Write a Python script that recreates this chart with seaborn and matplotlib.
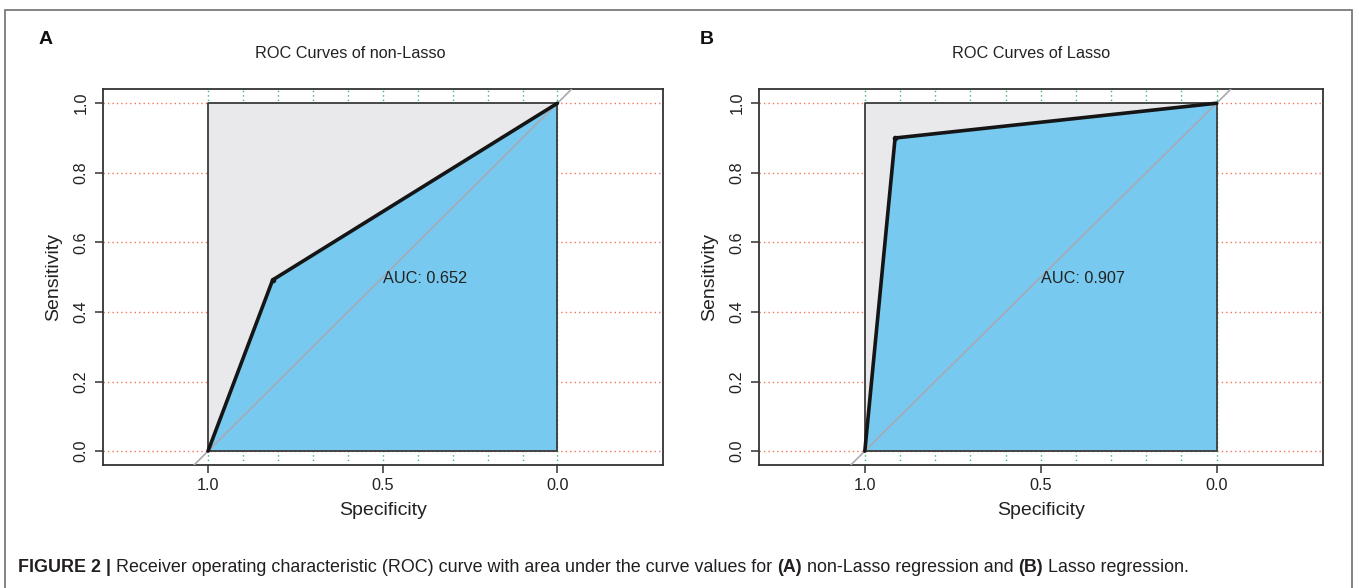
import numpy as np
import pandas as pd
import matplotlib
matplotlib.use("Agg")
import matplotlib.pyplot as plt
from matplotlib.patches import Rectangle
import seaborn as sns

# ---------------- data ----------------
panel_letters = ["A", "B"]
panel_titles = ["ROC Curves of non-Lasso", "ROC Curves of Lasso"]
spec_nonlasso = [1.0, 0.815, 0.0]
sens_nonlasso = [0.0, 0.492, 1.0]
spec_lasso = [1.0, 0.914, 0.0]
sens_lasso = [0.0, 0.900, 1.0]
auc_labels = ["AUC: 0.652", "AUC: 0.907"]
x_ticks = [1.0, 0.5, 0.0]
x_ticklabels = ["1.0", "0.5", "0.0"]
y_ticks = [0.0, 0.2, 0.4, 0.6, 0.8, 1.0]
y_ticklabels = ["0.0", "0.2", "0.4", "0.6", "0.8", "1.0"]
x_grid = [0.0, 0.1, 0.2, 0.3, 0.4, 0.5, 0.6, 0.7, 0.8, 0.9, 1.0]
caption_parts = [
    ("FIGURE 2", "bold"),
    (" | ", "bold"),
    ("Receiver operating characteristic (ROC) curve with area under the curve values for ", "normal"),
    ("(A)", "bold"),
    (" non-Lasso regression and ", "normal"),
    ("(B)", "bold"),
    (" Lasso regression.", "normal"),
]

sns.set_theme(style="white")
plt.rcParams["font.family"] = ["Liberation Sans", "DejaVu Sans"]

W, H = 1359, 588
fig = plt.figure(figsize=(W / 100, H / 100), dpi=100)
fig.patch.set_facecolor("white")


def fx(px):
    return px / W


def fy(py):
    return 1 - py / H


axes_px = [(102.5, 89.3, 663, 465), (758.6, 89.3, 1322.8, 465)]
title_x = [350, 1031]
letter_x = [46, 707]

data_sets = [(spec_nonlasso, sens_nonlasso), (spec_lasso, sens_lasso)]

txt_col = "#222222"
for i, (l, t, r, b) in enumerate(axes_px):
    ax = fig.add_axes([fx(l), fy(b), (r - l) / W, (b - t) / H])
    ax.set_facecolor("white")
    ax.set_xlim(1.302, -0.302)
    ax.set_ylim(-0.04, 1.04)

    # grid
    for yv in y_ticks:
        ax.axhline(yv, color="#F2765A", ls=(0, (1, 2.2)), lw=1.0, zorder=1)
    for xv in x_grid:
        ax.axvline(xv, color="#2DBF6A", ls=(0, (1, 2.2)), lw=1.0, zorder=1)

    # grey identity box
    ax.fill([1, 0, 0, 1], [0, 0, 1, 1], facecolor="#E9E9EC", edgecolor="none", zorder=2)

    spec, sens = data_sets[i]
    # blue AUC area
    ax.fill(list(spec) + [0.0], list(sens) + [0.0], facecolor="#77C9EF",
            edgecolor="none", zorder=3)
    ax.plot([1, 0, 0, 1, 1], [0, 0, 1, 1, 0], color="#3A3A3A", lw=1.3, zorder=4)

    # diagonal
    ax.axline((1, 0), (0, 1), color="#A9A9B2", lw=1.2, zorder=4)

    df = pd.DataFrame({"Specificity": spec, "Sensitivity": sens})
    sns.lineplot(data=df, x="Specificity", y="Sensitivity", ax=ax, sort=False,
                 estimator=None, color="#151515", lw=2.6, zorder=5)
    ax.plot(spec[1:2], sens[1:2], "o", color="#151515", ms=3, zorder=6)

    ax.text(0.5, 0.495, auc_labels[i], fontsize=11.7, color=txt_col,
            ha="left", va="center", zorder=7)

    ax.set_xticks(x_ticks)
    ax.set_xticklabels(x_ticklabels, fontsize=11.7, color=txt_col)
    ax.set_yticks(y_ticks)
    ax.set_yticklabels(y_ticklabels, fontsize=11.7, color=txt_col,
                       rotation=90, va="center")
    ax.tick_params(axis="both", which="both", direction="out", length=6,
                   width=1.1, color="#333333", left=True, bottom=True,
                   top=False, right=False)
    ax.tick_params(axis="x", pad=3)
    ax.tick_params(axis="y", pad=4)
    ax.set_xlabel("Specificity", fontsize=14, color=txt_col, labelpad=7)
    ax.set_ylabel("Sensitivity", fontsize=14, color=txt_col, labelpad=8)
    for s in ax.spines.values():
        s.set_visible(True)
        s.set_color("#333333")
        s.set_linewidth(1.3)
    ax.grid(False)

    fig.text(fx(title_x[i]), fy(54), panel_titles[i], fontsize=11.7,
             color=txt_col, ha="center", va="center")
    fig.text(fx(letter_x[i]), fy(40), panel_letters[i], fontsize=14,
             fontweight="bold", color="#111111", ha="center", va="center")

# outer border
fig.add_artist(Rectangle((fx(5), -0.05), (1352 - 5) / W, fy(10) + 0.05,
                         transform=fig.transFigure, fill=False,
                         edgecolor="#707070", lw=1.2))

# caption (placed piece by piece)
fig.canvas.draw()
renderer = fig.canvas.get_renderer()


def measure(s, weight, size):
    t = fig.text(0, 0, s.replace(" ", "\u00a0"), fontsize=size, fontweight=weight)
    w = t.get_window_extent(renderer).width
    t.remove()
    return w


base = 10.0
total = sum(measure(s, wgt, base) for s, wgt in caption_parts)
size = base * (1190 - 18) / total
xcur = 18
for s, wgt in caption_parts:
    t = fig.text(fx(xcur), fy(568), s.replace(" ", "\u00a0"), fontsize=size,
                 fontweight=wgt, color="#231F20", ha="left", va="center")
    xcur += t.get_window_extent(renderer).width

fig.savefig("out.png", dpi=100)
